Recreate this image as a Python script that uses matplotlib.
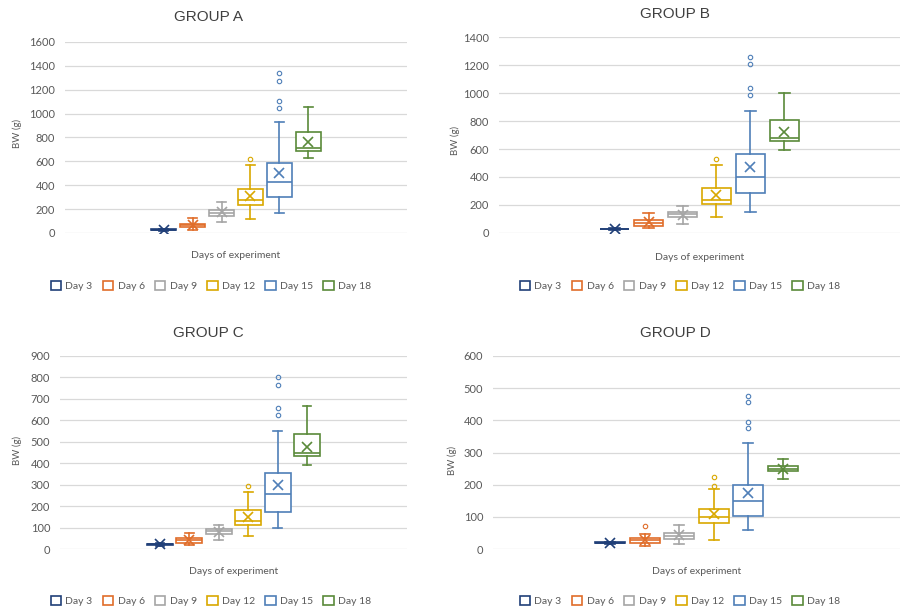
import matplotlib
matplotlib.use("Agg")
import matplotlib.pyplot as plt
from matplotlib.patches import Patch

days = ["Day 3", "Day 6", "Day 9", "Day 12", "Day 15", "Day 18"]
colors = ["#203F78", "#E06D2A", "#A5A5A5", "#D9A800", "#4F7FB8", "#5A8A3A"]
group_titles = ["GROUP A", "GROUP B", "GROUP C", "GROUP D"]

A_whislo = [15, 28, 89, 120, 167, 625]
A_q1 = [22, 50, 139, 231, 300, 687]
A_med = [25, 65, 170, 275, 431, 714]
A_q3 = [30, 78, 195, 367, 589, 848]
A_whishi = [35, 122, 256, 570, 926, 1056]
A_mean = [25, 65, 175, 311, 500, 761]
A_fliers = [[], [], [], [617], [1051, 1104, 1273, 1343], []]

B_whislo = [22, 33, 67, 112, 152, 590]
B_q1 = [25, 52, 112, 205, 286, 655]
B_med = [28, 71, 136, 233, 400, 679]
B_q3 = [31, 95, 152, 324, 562, 810]
B_whishi = [35, 145, 190, 488, 869, 1000]
B_mean = [28, 75, 132, 269, 469, 721]
B_fliers = [[], [], [], [531], [986, 1036, 1207, 1255], []]

C_whislo = [15, 19, 44, 61, 100, 391]
C_q1 = [19, 30, 69, 114, 173, 436]
C_med = [22, 40, 84, 131, 255, 450]
C_q3 = [25, 50, 95, 181, 355, 534]
C_whishi = [28, 75, 114, 268, 551, 666]
C_mean = [22, 40, 80, 149, 300, 476]
C_fliers = [[], [], [], [296], [626, 659, 764, 802], []]

D_whislo = [17, 8, 17, 29, 58, 217]
D_q1 = [19, 20, 32, 82, 104, 241]
D_med = [20, 27, 39, 100, 149, 250]
D_q3 = [22, 33, 50, 124, 199, 257]
D_whishi = [23, 46, 76, 188, 328, 279]
D_mean = [20, 27, 42, 109, 175, 249]
D_fliers = [[], [73], [], [197, 223], [376, 396, 456, 476], []]

ymax = [1600, 1400, 900, 600]
ystep = [200, 200, 100, 100]

data = [
    (A_whislo, A_q1, A_med, A_q3, A_whishi, A_mean, A_fliers),
    (B_whislo, B_q1, B_med, B_q3, B_whishi, B_mean, B_fliers),
    (C_whislo, C_q1, C_med, C_q3, C_whishi, C_mean, C_fliers),
    (D_whislo, D_q1, D_med, D_q3, D_whishi, D_mean, D_fliers),
]

W, H = 902, 614
fig = plt.figure(figsize=(W / 100, H / 100), dpi=100)
body_font = "Lato"
title_font = "Liberation Sans"
txtcol = "#595959"

# pixel boxes: left, right, top, bottom
boxes_px = [(65, 407, 42, 233), (499, 900, 37, 233), (60, 407, 356, 549), (493, 900, 356, 549)]
title_px = [(209, 17), (675, 14), (208, 333), (675, 333)]
ylabel_px = [(17, 133), (455, 140), (17, 450), (452, 460)]
xlabel_py = [256, 257, 572, 572]
legend_px = [(211, 286), (680, 286), (211, 601), (680, 601)]

positions = [-2.5, -1.5, -0.5, 0.5, 1.5, 2.5]

for g in range(4):
    l, r, t, b = boxes_px[g]
    ax = fig.add_axes([l / W, 1 - b / H, (r - l) / W, (b - t) / H])
    wl, q1, md, q3, wh, mn, fl = data[g]
    for i in range(6):
        st = dict(whislo=wl[i], q1=q1[i], med=md[i], q3=q3[i], whishi=wh[i],
                  mean=mn[i], fliers=fl[i])
        c = colors[i]
        ax.bxp([st], positions=[positions[i]], widths=0.88, showmeans=True,
               showfliers=True, patch_artist=True,
               boxprops=dict(facecolor="white", edgecolor=c, linewidth=1.2),
               medianprops=dict(color=c, linewidth=1.2),
               whiskerprops=dict(color=c, linewidth=1.2),
               capprops=dict(color=c, linewidth=1.2),
               capwidths=0.3,
               meanprops=dict(marker="x", markeredgecolor=c, markersize=7,
                              markeredgewidth=1.2),
               flierprops=dict(marker="o", markerfacecolor="none",
                               markeredgecolor=c, markersize=3.2,
                               markeredgewidth=0.8))
    ax.set_xlim(-5.9, 5.9)
    ax.set_ylim(0, ymax[g])
    ax.set_yticks(range(0, ymax[g] + 1, ystep[g]))
    ax.set_xticks([])
    ax.grid(axis="y", color="#D9D9D9", linewidth=0.9)
    ax.set_axisbelow(True)
    for s in ax.spines.values():
        s.set_visible(False)
    ax.tick_params(axis="y", length=0, labelsize=8, labelcolor=txtcol, pad=7)
    for lab in ax.get_yticklabels():
        lab.set_fontfamily(body_font)

    tx, ty = title_px[g]
    fig.text(tx / W, 1 - ty / H, group_titles[g], ha="center", va="center",
             fontsize=11, family=title_font, color="#404040")
    yx, yy = ylabel_px[g]
    fig.text(yx / W, 1 - yy / H, "BW (g)", ha="center", va="center",
             rotation=90, fontsize=7, family=body_font, color=txtcol)
    fig.text((l + r) / 2 / W, 1 - xlabel_py[g] / H, "Days of experiment",
             ha="center", va="center", fontsize=7.5, family=body_font, color=txtcol)
    handles = [Patch(facecolor="white", edgecolor=c, linewidth=1.2) for c in colors]
    lx, ly = legend_px[g]
    fig.legend(handles, days, loc="center", bbox_to_anchor=(lx / W, 1 - ly / H),
               ncol=6, frameon=False, handlelength=1.0, handleheight=1.0,
               handletextpad=0.4, columnspacing=1.0,
               prop=dict(family=body_font, size=7.5), labelcolor=txtcol)

fig.savefig("out.png", dpi=100)
